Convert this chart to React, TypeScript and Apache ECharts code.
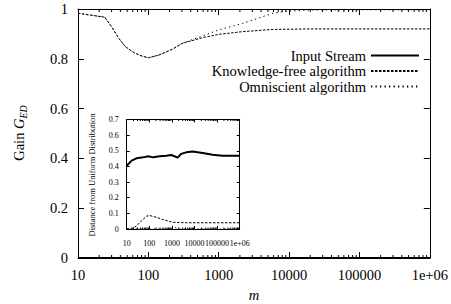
import React, { useEffect, useRef } from "react";
import * as echarts from "echarts";

// ---- main plot data (gain vs m) ----
const mainInputM = [10, 1000000];
const mainInputV = [0, 0];

const mainKfM = [10, 24, 30, 38, 47, 62, 81, 100, 141, 218, 303, 590, 1000, 2180, 5900, 20000, 100000, 1000000];
const mainKfV = [0.983, 0.967, 0.929, 0.882, 0.849, 0.825, 0.811, 0.804, 0.815, 0.838, 0.862, 0.885, 0.898, 0.909, 0.918, 0.92, 0.92, 0.92];

const mainOmM = [10, 24, 30, 38, 47, 62, 81, 100, 141, 218, 303, 590, 1000, 2180, 4200, 5900, 9600, 20000, 100000, 1000000];
const mainOmV = [0.983, 0.967, 0.929, 0.882, 0.849, 0.825, 0.811, 0.804, 0.815, 0.838, 0.862, 0.892, 0.916, 0.942, 0.969, 0.983, 0.992, 0.996, 0.997, 0.997];

// ---- inset data (distance from uniform distribution) ----
const insInputM = [10, 16.6, 27, 54, 89, 147, 290, 560, 940, 1300, 1800, 2560, 4300, 8400, 23000, 63000, 174000, 1000000];
const insInputV = [0.404, 0.437, 0.452, 0.458, 0.465, 0.458, 0.465, 0.469, 0.473, 0.465, 0.456, 0.48, 0.49, 0.495, 0.486, 0.475, 0.469, 0.469];

const insKfM = [10, 20, 27, 45, 75, 105, 207, 400, 1100, 4300, 1000000];
const insKfV = [0, 0.007, 0.02, 0.052, 0.082, 0.086, 0.075, 0.06, 0.043, 0.04, 0.04];

const insOmM = [10, 900, 1200, 1600, 2200, 1000000];
const insOmV = [0, 0, 0.015, 0.005, 0, 0];

const seriesNames = ["Input Stream", "Knowledge-free algorithm", "Omniscient algorithm"];
const mainYTicks = [0, 0.2, 0.4, 0.6, 0.8, 1];
const insetYTicks = [0, 0.1, 0.2, 0.3, 0.4, 0.5, 0.6, 0.7];

const FONT = "Liberation Serif";

const minorTickValues: number[] = [];
for (let e = 1; e < 6; e++) {
  for (let k = 2; k <= 9; k++) minorTickValues.push(k * Math.pow(10, e));
}

function logFmt(v: number) {
  return v >= 999999 ? "1e+06" : String(Math.round(v));
}

function pairs(xs: number[], ys: number[]) {
  return xs.map((x, i) => [x, ys[i]]);
}

function xAx(grid: number, pos: "bottom" | "top", fs: number, tickLen: number, margin: number) {
  return {
    type: "log",
    logBase: 10,
    gridIndex: grid,
    position: pos,
    min: 10,
    max: 1000000,
    axisLine: { show: true, onZero: false, lineStyle: { color: "#000", width: 1 } },
    axisTick: { show: true, inside: true, length: tickLen, lineStyle: { color: "#000", width: 1 } },
    axisLabel: {
      show: pos === "bottom",
      formatter: logFmt,
      fontFamily: FONT,
      fontSize: fs,
      color: "#000",
      margin,
    },
    splitLine: { show: false },
    minorTick: { show: false },
  };
}

function yAx(grid: number, pos: "left" | "right", max: number, interval: number, fs: number, tickLen: number, margin: number) {
  return {
    type: "value",
    gridIndex: grid,
    position: pos,
    min: 0,
    max,
    interval,
    axisLine: { show: true, onZero: false, lineStyle: { color: "#000", width: 1 } },
    axisTick: { show: true, inside: true, length: tickLen, lineStyle: { color: "#000", width: 1 } },
    axisLabel: {
      show: pos === "left",
      fontFamily: FONT,
      fontSize: fs,
      color: "#000",
      margin,
      formatter: (v: number) => String(Math.round(v * 10) / 10),
    },
    splitLine: { show: false },
  };
}

function minorTicksSeries(xi: number, yi: number, yMax: number, len: number) {
  return {
    type: "custom",
    xAxisIndex: xi,
    yAxisIndex: yi,
    silent: true,
    clip: false,
    encode: { x: 0, y: 1 },
    data: minorTickValues.map((v) => [v, 0]),
    renderItem: (params: any, api: any) => {
      const v = api.value(0);
      const b = api.coord([v, 0]);
      const t = api.coord([v, yMax]);
      const st = { stroke: "#000", lineWidth: 1 };
      return {
        type: "group",
        children: [
          { type: "line", shape: { x1: b[0], y1: b[1], x2: b[0], y2: b[1] - len }, style: st },
          { type: "line", shape: { x1: t[0], y1: t[1], x2: t[0], y2: t[1] + len }, style: st },
        ],
      };
    },
  };
}

function lineSeries(name: string, xi: number, yi: number, data: number[][], kind: number) {
  const styles = [
    { color: "#000", width: 2, type: "solid" as any },
    { color: "#000", width: 1, type: [2.5, 1.5] as any },
    { color: "#000", width: 1, type: [1.3, 3.2] as any },
  ];
  return {
    type: "line",
    name,
    xAxisIndex: xi,
    yAxisIndex: yi,
    data,
    symbol: "none",
    showSymbol: false,
    clip: false,
    lineStyle: styles[kind],
    itemStyle: { color: "#000" },
    z: 3 - kind,
  };
}

export default function App() {
  const ref = useRef<HTMLDivElement>(null);
  useEffect(() => {
    if (!ref.current) return;
    const chart = echarts.init(ref.current, undefined, { renderer: "svg" });
    const insetL = 126.7;
    const insetT = 119.5;
    const insetW = 113;
    const insetH = 109.5;
    chart.setOption({
      animation: false,
      backgroundColor: "#fff",
      grid: [
        { left: 78, top: 9, width: 352, height: 249 },
        { left: insetL, top: insetT, width: insetW, height: insetH },
      ],
      xAxis: [
        xAx(0, "bottom", 14.5, 6, 9),
        xAx(0, "top", 14.5, 6, 9),
        xAx(1, "bottom", 8, 3, 10),
        xAx(1, "top", 8, 3, 10),
      ],
      yAxis: [
        yAx(0, "left", mainYTicks[mainYTicks.length - 1], 0.2, 14.5, 6, 10),
        yAx(0, "right", mainYTicks[mainYTicks.length - 1], 0.2, 14.5, 6, 10),
        yAx(1, "left", insetYTicks[insetYTicks.length - 1], 0.1, 8, 3, 8),
        yAx(1, "right", insetYTicks[insetYTicks.length - 1], 0.1, 8, 3, 8),
      ],
      legend: {
        orient: "vertical",
        right: 26,
        top: 43,
        align: "right",
        itemWidth: 48,
        itemHeight: 14,
        itemGap: 0.5,
        selectedMode: false,
        data: seriesNames,
        itemStyle: { opacity: 0, color: "transparent", borderWidth: 0 },
        textStyle: { fontFamily: FONT, fontSize: 14.5, color: "#000" },
      },
      series: [
        lineSeries(seriesNames[0], 0, 0, pairs(mainInputM, mainInputV), 0),
        lineSeries(seriesNames[1], 0, 0, pairs(mainKfM, mainKfV), 1),
        lineSeries(seriesNames[2], 0, 0, pairs(mainOmM, mainOmV), 2),
        lineSeries(seriesNames[0], 2, 2, pairs(insInputM, insInputV), 0),
        lineSeries(seriesNames[1], 2, 2, pairs(insKfM, insKfV), 1),
        lineSeries(seriesNames[2], 2, 2, pairs(insOmM, insOmV), 2),
        minorTicksSeries(0, 0, 1, 3),
        minorTicksSeries(2, 2, 0.7, 1.5),
      ],
      graphic: [
        {
          type: "text",
          x: 19,
          y: 133,
          rotation: Math.PI / 2,
          style: {
            text: "{a|Gain }{b|G}{c|ED}",
            align: "center",
            verticalAlign: "middle",
            fill: "#000",
            rich: {
              a: { fontFamily: FONT, fontSize: 14.5, lineHeight: 18, fill: "#000" },
              b: { fontFamily: FONT, fontSize: 14.5, fontStyle: "italic", lineHeight: 18, fill: "#000" },
              c: { fontFamily: FONT, fontSize: 10, fontStyle: "italic", lineHeight: 10, verticalAlign: "bottom", fill: "#000" },
            },
          },
        },
        {
          type: "text",
          x: 254,
          y: 295,
          style: {
            text: "m",
            fontFamily: FONT,
            fontSize: 14.5,
            fontStyle: "italic",
            align: "center",
            verticalAlign: "middle",
            fill: "#000",
          },
        },
        {
          type: "text",
          x: 92,
          y: 175,
          rotation: Math.PI / 2,
          style: {
            text: "Distance from Uniform Distribution",
            fontFamily: FONT,
            fontSize: 8.5,
            align: "center",
            verticalAlign: "middle",
            fill: "#000",
          },
        },
      ],
    });
    return () => chart.dispose();
  }, []);
  return (
    <div
      ref={ref}
      style={{ position: "fixed", left: 0, top: 0, width: 451, height: 304, background: "#fff" }}
    />
  );
}
